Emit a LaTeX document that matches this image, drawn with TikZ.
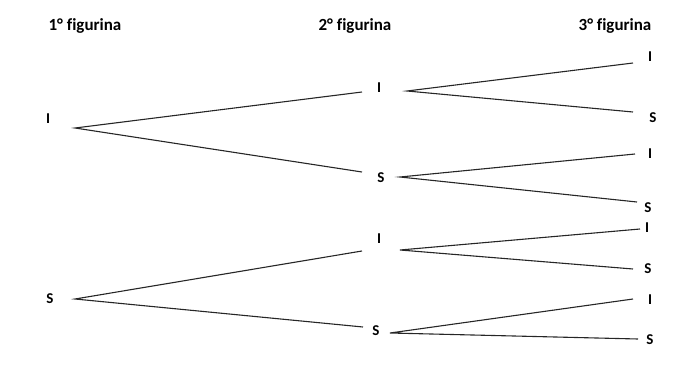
\documentclass[tikz,border=0pt]{standalone}
\usepackage{fontspec}
\setmainfont[Ligatures=NoCommon]{Carlito}
\begin{document}
\begin{tikzpicture}[x=1pt,y=-1pt,
  head/.style={font=\bfseries\fontsize{17}{20}\selectfont, inner sep=0pt},
  lab/.style={font=\bfseries\fontsize{15}{18}\selectfont, inner sep=0pt},
  branch/.style={draw=black!85, line width=1.1pt}]
\useasboundingbox (0,0) rectangle (699,380);
% headers
\node[head] (h1) at (85,26) {1° figurina};
\node[head] (h2) at (355,26) {2° figurina};
\node[head] (h3) at (615,26) {3° figurina};
% level 1
\node[lab] (a) at (48,119) {I};
\node[lab] (b) at (50,299) {S};
\coordinate (ao) at (75,128);
\coordinate (bo) at (75,299);
% level 2
\node[lab] (aa) at (379,88) {I};
\node[lab] (ab) at (381,178) {S};
\node[lab] (ba) at (379,239) {I};
\node[lab] (bb) at (376,331) {S};
\coordinate (aai) at (362,92);  \coordinate (aao) at (407,91);
\coordinate (abi) at (362,172); \coordinate (abo) at (400,177);
\coordinate (bai) at (362,251); \coordinate (bao) at (400,250);
\coordinate (bbi) at (363,327); \coordinate (bbo) at (390,333);
% level 3
\node[lab] (aaa) at (650,57) {I};
\node[lab] (aab) at (653,118) {S};
\node[lab] (aba) at (650,154) {I};
\node[lab] (abb) at (648,208) {S};
\node[lab] (baa) at (647,228) {I};
\node[lab] (bab) at (648,269) {S};
\node[lab] (bba) at (650,300) {I};
\node[lab] (bbb) at (650,340) {S};
\coordinate (aaai) at (633,63);
\coordinate (aabi) at (633,112);
\coordinate (abai) at (635,154);
\coordinate (abbi) at (637,202);
\coordinate (baai) at (640,229);
\coordinate (babi) at (633,269);
\coordinate (bbai) at (633,299);
\coordinate (bbbi) at (638,339);
% branches
\draw[branch] (aai) -- (ao) -- (abi);
\draw[branch] (bai) -- (bo) -- (bbi);
\draw[branch] (aaai) -- (aao) -- (aabi);
\draw[branch] (abai) -- (abo) -- (abbi);
\draw[branch] (baai) -- (bao) -- (babi);
\draw[branch] (bbai) -- (bbo) -- (bbbi);
\end{tikzpicture}
\end{document}
